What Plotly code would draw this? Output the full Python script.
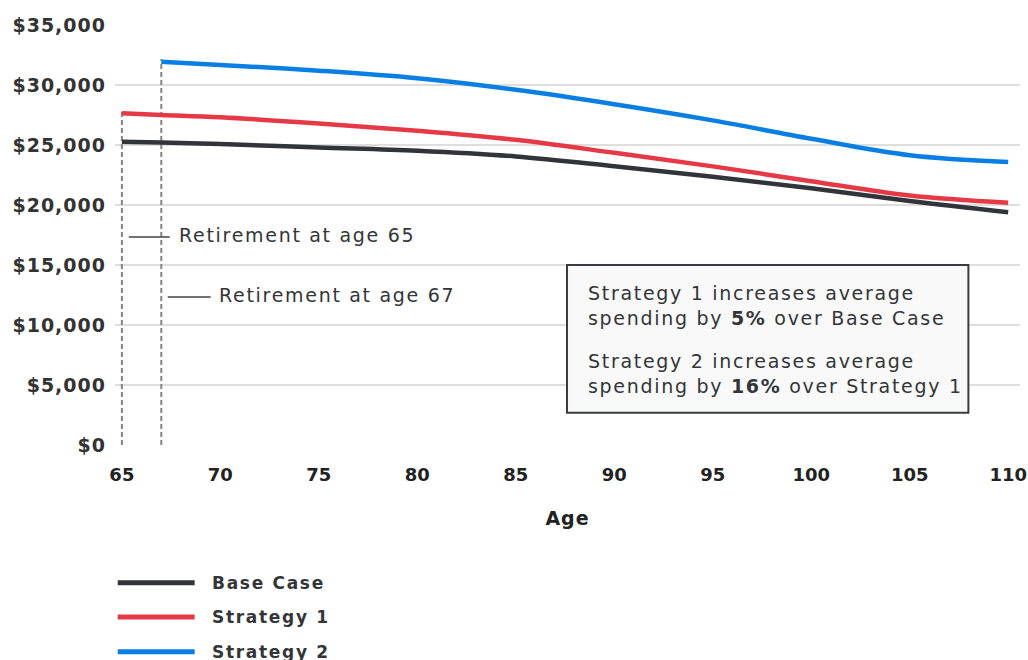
import plotly.graph_objects as go

ages = [65, 67, 70, 75, 80, 85, 90, 95, 100, 105, 110]
base_case = [25280, 25200, 25080, 24800, 24530, 24050, 23230, 22350, 21400, 20330, 19390]
strategy_1 = [27640, 27500, 27310, 26800, 26190, 25430, 24350, 23220, 21980, 20790, 20190]
strategy_2 = [None, 31940, 31670, 31190, 30560, 29600, 28400, 27050, 25520, 24150, 23580]

series_names = ["Base Case", "Strategy 1", "Strategy 2"]
series_values = [base_case, strategy_1, strategy_2]
colors = ["#313438", "#e63946", "#0a7fe3"]

x_ticks = [65, 70, 75, 80, 85, 90, 95, 100, 105, 110]
y_ticks = [0, 5000, 10000, 15000, 20000, 25000, 30000, 35000]
y_tick_labels = ["$0", "$5,000", "$10,000", "$15,000", "$20,000", "$25,000", "$30,000", "$35,000"]

retire_ages = [65, 67]
retire_tops = [27800, 32140]
retire_labels = ["Retirement at age 65", "Retirement at age 67"]

note_lines = [
    "Strategy 1 increases average<br>spending by <b>5%</b> over Base Case",
    "Strategy 2 increases average<br>spending by <b>16%</b> over Strategy 1",
]

FONT = "DejaVu Sans"
TXT = "#333538"

fig = go.Figure()

for a, top in zip(retire_ages, retire_tops):
    fig.add_trace(go.Scatter(x=[a, a], y=[0, top], mode="lines",
                             line=dict(color="#858585", width=2, dash="5px,3px"),
                             showlegend=False, hoverinfo="skip"))

for name, vals, c in zip(series_names, series_values, colors):
    fig.add_trace(go.Scatter(x=ages, y=vals, mode="lines", name=name,
                             line=dict(color=c, width=4.5, shape="spline", smoothing=1),
                             showlegend=False))

shapes = []
annotations = []

leader = [((65.35, 67.43), 17330, 67.79), ((67.33, 69.51), 12330, 69.82)]
for (x0, x1), yv, tx in leader:
    shapes.append(dict(type="line", xref="x", yref="y", x0=x0, x1=x1, y0=yv, y1=yv,
                       line=dict(color="#444", width=1.5)))
for (rng, yv, tx), lab in zip(leader, retire_labels):
    annotations.append(dict(xref="x", yref="y", x=tx, y=yv + 150, text=lab, showarrow=False,
                            xanchor="left", yanchor="middle", align="left",
                            font=dict(family=FONT, size=19, color=TXT)))

shapes.append(dict(type="rect", xref="x", yref="y", x0=87.6, x1=107.98, y0=2690, y1=15000,
                   fillcolor="#f9f9f9", line=dict(color="#3a3c40", width=2), layer="above"))
for txt, yv in zip(note_lines, [11640, 5960]):
    annotations.append(dict(xref="x", yref="y", x=88.57, y=yv, text=txt, showarrow=False,
                            xanchor="left", yanchor="middle", align="left",
                            font=dict(family=FONT, size=19, color=TXT)))

leg_y = [-0.3279, -0.4095, -0.4921]
for name, c, ly in zip(series_names, colors, leg_y):
    shapes.append(dict(type="line", xref="paper", yref="paper", x0=0.003, x1=0.088, y0=ly, y1=ly,
                       line=dict(color=c, width=5)))
    annotations.append(dict(xref="paper", yref="paper", x=0.105, y=ly, text="<b>%s</b>" % name,
                            showarrow=False, xanchor="left", yanchor="middle", align="left",
                            font=dict(family=FONT, size=17, color=TXT)))

fig.update_layout(
    width=1028, height=660,
    margin=dict(l=115, r=8, t=25, b=215),
    paper_bgcolor="white", plot_bgcolor="white",
    font=dict(family=FONT, color=TXT),
    shapes=shapes, annotations=annotations,
    showlegend=False,
)
fig.update_xaxes(range=[64.65, 110.6], tickvals=x_ticks, showgrid=False, zeroline=False,
                 showline=False, ticks="", ticklabelstandoff=17, ticklabeloverflow="allow",
                 automargin=False,
                 tickfont=dict(family=FONT, size=18, color="#222", weight="bold"),
                 title=dict(text="<b>Age</b>", font=dict(family=FONT, size=19, color="#222"), standoff=27))
fig.update_yaxes(range=[0, 35000], tickvals=y_ticks, ticktext=y_tick_labels, showgrid=True,
                 gridcolor="#dedede", gridwidth=1.5, zeroline=False, showline=False, ticks="",
                 ticklabelstandoff=8, automargin=False,
                 tickfont=dict(family=FONT, size=19, color="#333", weight="bold"))

post = """
var st = document.createElement('style');
st.innerHTML = 'body{margin:0;overflow:hidden}' +
  '.annotation-text{letter-spacing:1.7px}' +
  '.ytick text{letter-spacing:1px}' +
  '.g-xtitle text{letter-spacing:1px}';
document.head.appendChild(st);
"""
fig.write_html("out.html", post_script=post, config={"displayModeBar": False})
